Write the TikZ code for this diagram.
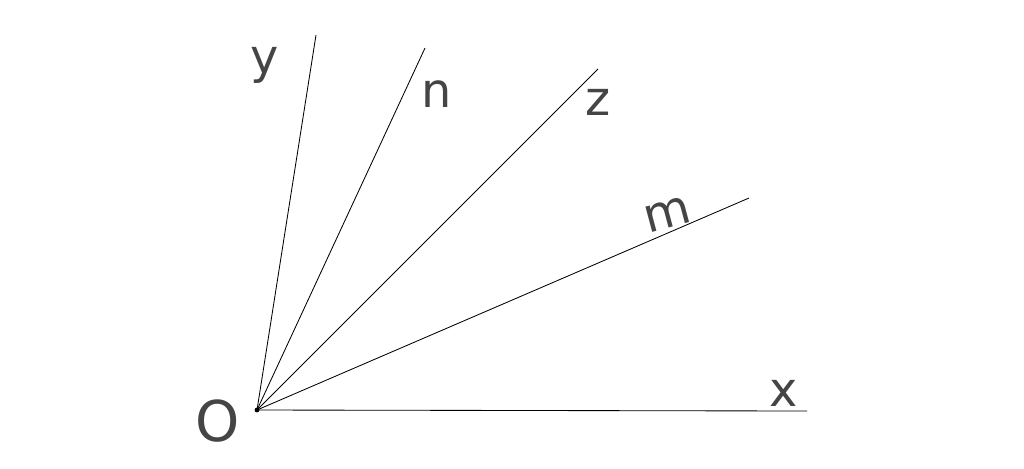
\documentclass[tikz,border=0pt]{standalone}
\usepackage{fontspec}
\setmainfont{DejaVu Sans}
\definecolor{ink}{HTML}{454545}
\begin{document}
\begin{tikzpicture}[x=0.25mm,y=-0.25mm,
  ray/.style={draw=black,line width=0.6pt},
  lbl/.style={text=ink,font=\fontsize{34}{36}\selectfont,inner sep=0pt}]
\useasboundingbox (0,0) rectangle (1024,468);
\coordinate (o) at (257,410);
\coordinate (ex) at (807,411);
\coordinate (em) at (749,198);
\coordinate (ez) at (598,69);
\coordinate (en) at (425,48);
\coordinate (ey) at (316,35);
\fill (o) circle (2.4);
\foreach \e in {ex,em,ez,en,ey} \draw[ray] (o) -- (\e);
\node[lbl,font=\fontsize{40}{42}\selectfont] (lo) at (218,421) {O};
\node[lbl] (lx) at (784,393) {x};
\node[lbl,rotate=15] (lm) at (668,215) {m};
\node[lbl] (lz) at (598,102) {z};
\node[lbl] (ln) at (437,94) {n};
\node[lbl] (ly) at (265,65) {y};
\end{tikzpicture}
\end{document}
